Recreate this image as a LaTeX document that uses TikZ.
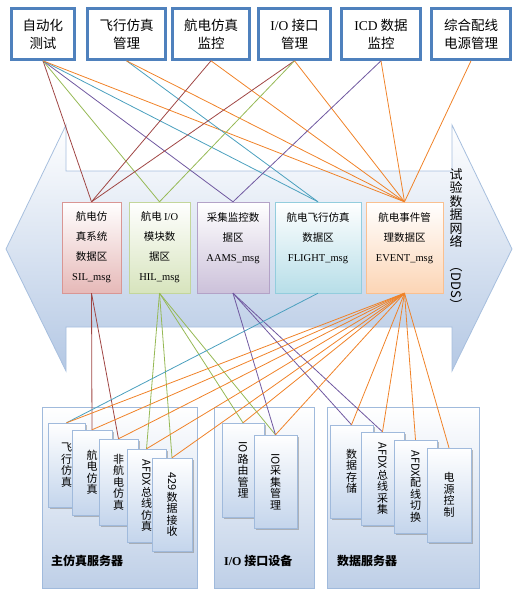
\documentclass[tikz,border=0pt]{standalone}
\usepackage{fontspec}
\setmainfont{Liberation Serif}
\newfontfamily\cjk{Noto Sans CJK SC}
\usepackage{tikz}
\usetikzlibrary{shadows}

\newcommand\lat[1]{{\rmfamily #1}}

\definecolor{topblue}{RGB}{79,129,189}
\definecolor{arrowline}{RGB}{167,191,222}
\definecolor{arrowfill}{RGB}{180,200,228}
\definecolor{cardborder}{RGB}{160,186,220}
\definecolor{cardfill}{RGB}{196,213,236}
\definecolor{groupfill}{RGB}{190,207,231}
\definecolor{silborder}{RGB}{217,150,148}
\definecolor{silfill}{RGB}{230,185,184}
\definecolor{silline}{RGB}{160,70,68}
\definecolor{hilborder}{RGB}{195,214,155}
\definecolor{hilfill}{RGB}{215,228,189}
\definecolor{hilline}{RGB}{150,185,85}
\definecolor{aamsborder}{RGB}{179,162,199}
\definecolor{aamsfill}{RGB}{204,193,218}
\definecolor{aamsline}{RGB}{112,88,160}
\definecolor{flightborder}{RGB}{147,205,221}
\definecolor{flightfill}{RGB}{183,222,232}
\definecolor{flightline}{RGB}{75,160,190}
\definecolor{eventborder}{RGB}{250,192,144}
\definecolor{eventfill}{RGB}{252,213,181}
\definecolor{eventline}{RGB}{240,130,40}

\begin{document}
\begin{tikzpicture}[x=1pt, y=-1pt,
  topbox/.style={rectangle, draw=topblue, line width=2.6pt, fill=white, inner sep=0pt,
    minimum height=51pt, align=center, font=\cjk\fontsize{13.5}{18}\selectfont},
  databox/.style={rectangle, draw=#1border, top color=white, bottom color=#1fill,
    inner sep=0pt, minimum height=91pt, align=center,
    font=\cjk\fontsize{10.5}{20}\selectfont,
    drop shadow={shadow xshift=1.2pt, shadow yshift=-1.2pt, fill=black!40, opacity=0.5}},
  groupbox/.style={rectangle, draw=cardborder, top color=white, bottom color=groupfill,
    inner sep=0pt, minimum height=181pt,
    drop shadow={shadow xshift=1.2pt, shadow yshift=-1.2pt, fill=black!40, opacity=0.4}},
  card/.style={rectangle, draw=cardborder, top color=white, bottom color=cardfill,
    inner sep=0pt, align=center, font=\cjk\fontsize{11}{11.5}\selectfont,
    drop shadow={shadow xshift=1.5pt, shadow yshift=-1.5pt, fill=black!50, opacity=0.5}},
  grouplbl/.style={anchor=west, inner sep=0pt, font=\cjk\bfseries\fontsize{12}{14}\selectfont},
  netlbl/.style={align=center, inner sep=0pt, font=\cjk\fontsize{13}{13.4}\selectfont},
  link/.style={line width=0.8pt}
]
\useasboundingbox (0,0) rectangle (523,598);

% Network arrow (DDS)
\path[draw=arrowline, line width=0.8pt, top color=white, bottom color=arrowfill]
  (66,125) -- (66,171) -- (452,171) -- (452,125) -- (512,249) -- (452,371)
  -- (452,327) -- (66,327) -- (66,371) -- (6,249) -- cycle;
\node[netlbl] (ddslbl) at (456,240) {试\\验\\数\\据\\网\\络\\\rotatebox{-90}{（DDS）}};

% Top row - applications
\node[topbox, minimum width=63pt] (auto) at (43,34) {自动化\\测试};
\node[topbox, minimum width=78pt] (flymgr) at (126.5,34) {飞行仿真\\管理};
\node[topbox, minimum width=77pt] (avmon) at (211,34) {航电仿真\\监控};
\node[topbox, minimum width=72pt] (iomgr) at (294.5,34) {\lat{I/O} 接口\\管理};
\node[topbox, minimum width=79pt] (icdmon) at (381,34) {\lat{ICD} 数据\\监控};
\node[topbox, minimum width=79pt] (power) at (471,34) {综合配线\\电源管理};

% Middle row - data areas
\node[databox=sil, minimum width=59pt] (sil) at (91.5,247.5)
  {航电仿\\真系统\\数据区\\\lat{SIL\_msg}};
\node[databox=hil, minimum width=61pt] (hil) at (159.5,247.5)
  {航电 \lat{I/O}\\模块数\\据区\\\lat{HIL\_msg}};
\node[databox=aams, minimum width=72pt] (aams) at (233,247.5)
  {采集监控数\\据区\\\lat{AAMS\_msg}\\\mbox{}};
\node[databox=flight, minimum width=86pt] (flight) at (318,247.5)
  {航电飞行仿真\\数据区\\\lat{FLIGHT\_msg}\\\mbox{}};
\node[databox=event, minimum width=77pt] (event) at (404.5,247.5)
  {航电事件管\\理数据区\\\lat{EVENT\_msg}\\\mbox{}};

% Bottom row - servers
\node[groupbox, minimum width=155pt] (mainsrv) at (119.5,497.5) {};
\node[groupbox, minimum width=100pt] (iodev) at (264,497.5) {};
\node[groupbox, minimum width=152pt] (datasrv) at (403,497.5) {};
\node[grouplbl] (mainlbl) at (51,561) {主仿真服务器};
\node[grouplbl] (iolbl) at (224,561) {\lat{I/O} 接口设备};
\node[grouplbl] (datalbl) at (337,561) {数据服务器};

\node[card, minimum width=37pt, minimum height=84pt] (flysim) at (66.5,465) {飞\\行\\仿\\真};
\node[card, minimum width=40pt, minimum height=85pt] (avsim) at (92,472.5) {航\\电\\仿\\真};
\node[card, minimum width=39pt, minimum height=86pt] (nonav) at (118.5,482) {非\\航\\电\\仿\\真};
\node[card, minimum width=39pt, minimum height=93pt] (afdxsim) at (146.5,495.5)
  {\rotatebox{-90}{AFDX}\\总\\线\\仿\\真};
\node[card, minimum width=40pt, minimum height=93pt] (rcv429) at (172,504.5)
  {\rotatebox{-90}{429}\\数\\据\\接\\收};

\node[card, minimum width=42pt, minimum height=94pt] (iorouting) at (243,470)
  {\rotatebox{-90}{IO}\\路\\由\\管\\理};
\node[card, minimum width=43pt, minimum height=93pt] (iocollect) at (275.5,481.5)
  {\rotatebox{-90}{IO}\\采\\集\\管\\理};

\node[card, minimum width=43pt, minimum height=93pt] (datastore) at (351.5,471.5) {数\\据\\存\\储};
\node[card, minimum width=43pt, minimum height=93pt] (afdxcap) at (382.5,478.5)
  {\rotatebox{-90}{AFDX}\\总\\线\\采\\集};
\node[card, minimum width=43pt, minimum height=93pt] (afdxswitch) at (415.5,486.5)
  {\rotatebox{-90}{AFDX}\\配\\线\\切\\换};
\node[card, minimum width=44pt, minimum height=94pt] (powerctl) at (449,495) {电\\源\\控\\制};

% Links - applications to data areas
\draw[link, silline] (auto.south) -- (sil.north);
\draw[link, hilline] (auto.south) -- (hil.north);
\draw[link, aamsline] (auto.south) -- (aams.north);
\draw[link, flightline] (auto.south) -- (flight.north);
\draw[link, eventline] (auto.south) -- (event.north);
\draw[link, flightline] (flymgr.south) -- (flight.north);
\draw[link, eventline] (flymgr.south) -- (event.north);
\draw[link, silline] (avmon.south) -- (sil.north);
\draw[link, eventline] (avmon.south) -- (event.north);
\draw[link, silline] (iomgr.south) -- (sil.north);
\draw[link, hilline] (iomgr.south) -- (hil.north);
\draw[link, eventline] (iomgr.south) -- (event.north);
\draw[link, aamsline] (icdmon.south) -- (aams.north);
\draw[link, eventline] (icdmon.south) -- (event.north);
\draw[link, eventline] (power.south) -- (event.north);

% Links - data areas to servers
\draw[link, silline] (sil.south) -- (avsim.north);
\draw[link, silline] (sil.south) -- (nonav.north);
\draw[link, hilline] (hil.south) -- (afdxsim.north);
\draw[link, hilline] (hil.south) -- (rcv429.north);
\draw[link, hilline] (hil.south) -- (iorouting.north);
\draw[link, hilline] (hil.south) -- (iocollect.north);
\draw[link, aamsline] (aams.south) -- (iocollect.north);
\draw[link, aamsline] (aams.south) -- (datastore.north);
\draw[link, aamsline] (aams.south) -- (afdxcap.north);
\draw[link, flightline] (flight.south) -- (flysim.north);
\draw[link, eventline] (event.south) -- (flysim.north);
\draw[link, eventline] (event.south) -- (avsim.north);
\draw[link, eventline] (event.south) -- (nonav.north);
\draw[link, eventline] (event.south) -- (afdxsim.north);
\draw[link, eventline] (event.south) -- (rcv429.north);
\draw[link, eventline] (event.south) -- (iorouting.north);
\draw[link, eventline] (event.south) -- (iocollect.north);
\draw[link, eventline] (event.south) -- (datastore.north);
\draw[link, eventline] (event.south) -- (afdxcap.north);
\draw[link, eventline] (event.south) -- (afdxswitch.north);
\draw[link, eventline] (event.south) -- (powerctl.north);

\end{tikzpicture}
\end{document}
